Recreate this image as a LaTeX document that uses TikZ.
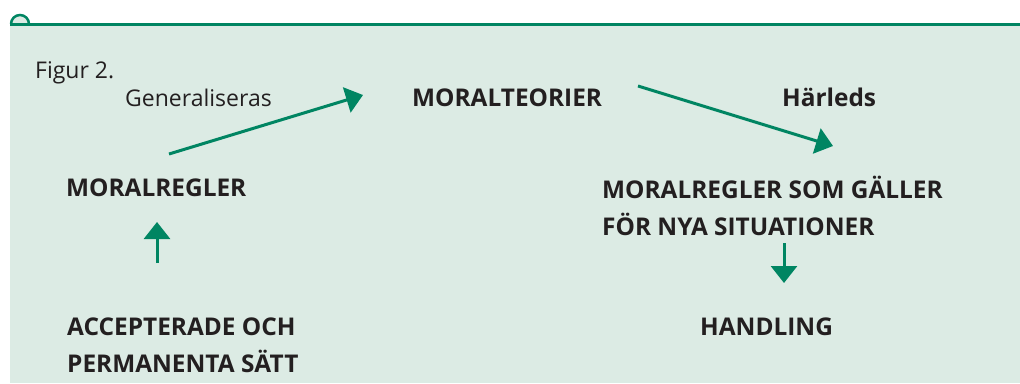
\documentclass[tikz,border=0pt]{standalone}
\usepackage{fontspec}
\setmainfont{Open Sans}
\usetikzlibrary{arrows.meta}
\definecolor{frgreen}{RGB}{0,133,98}
\definecolor{frbg}{RGB}{220,235,228}
\definecolor{frtext}{RGB}{35,31,32}
\tikzset{
  lbl/.style={anchor=base west, inner sep=0pt, text=frtext, font=\fontsize{24.4}{37}\selectfont\bfseries, align=left},
  lblreg/.style={anchor=base west, inner sep=0pt, text=frtext, font=\fontsize{23}{37}\selectfont},
  arr/.style={draw=frgreen, line width=3pt, -{Triangle[length=17pt,width=26pt]}},
}
\begin{document}
\begin{tikzpicture}[x=1pt,y=-1pt]
\useasboundingbox (0,0) rectangle (1020,383);
\fill[frbg] (10,24) rectangle (1020,383);
\filldraw[fill=frbg, draw=frgreen, line width=2.5pt] (11,24) arc[start angle=180, end angle=360, radius=9];
\draw[frgreen, line width=3pt] (10,24.5) -- (1020,24.5);
\node[lblreg] (fig) at (35,78) {Figur 2.};
\node[lblreg] (gen) at (125,106) {Generaliseras};
\node[lbl] (teori) at (412,106) {MORALTEORIER};
\node[lbl] (harl) at (782,106) {Härleds};
\node[lbl] (regler) at (66,196) {MORALREGLER};
\node[lbl] (nya) at (602,235) {MORALREGLER SOM GÄLLER\\FÖR NYA SITUATIONER};
\node[lbl] (acc) at (67,372) {ACCEPTERADE OCH\\PERMANENTA SÄTT};
\node[lbl] (hand) at (700,335) {HANDLING};
\coordinate (a1s) at (169,154);
\coordinate (a1e) at (363,95);
\coordinate (a2s) at (638,86);
\coordinate (a2e) at (833,146);
\coordinate (a3s) at (157,263);
\coordinate (a3e) at (157,222);
\coordinate (a4s) at (784,243);
\coordinate (a4e) at (784,283);
\draw[arr] (a1s) -- (a1e);
\draw[arr] (a2s) -- (a2e);
\draw[arr] (a3s) -- (a3e);
\draw[arr] (a4s) -- (a4e);
\end{tikzpicture}
\end{document}
